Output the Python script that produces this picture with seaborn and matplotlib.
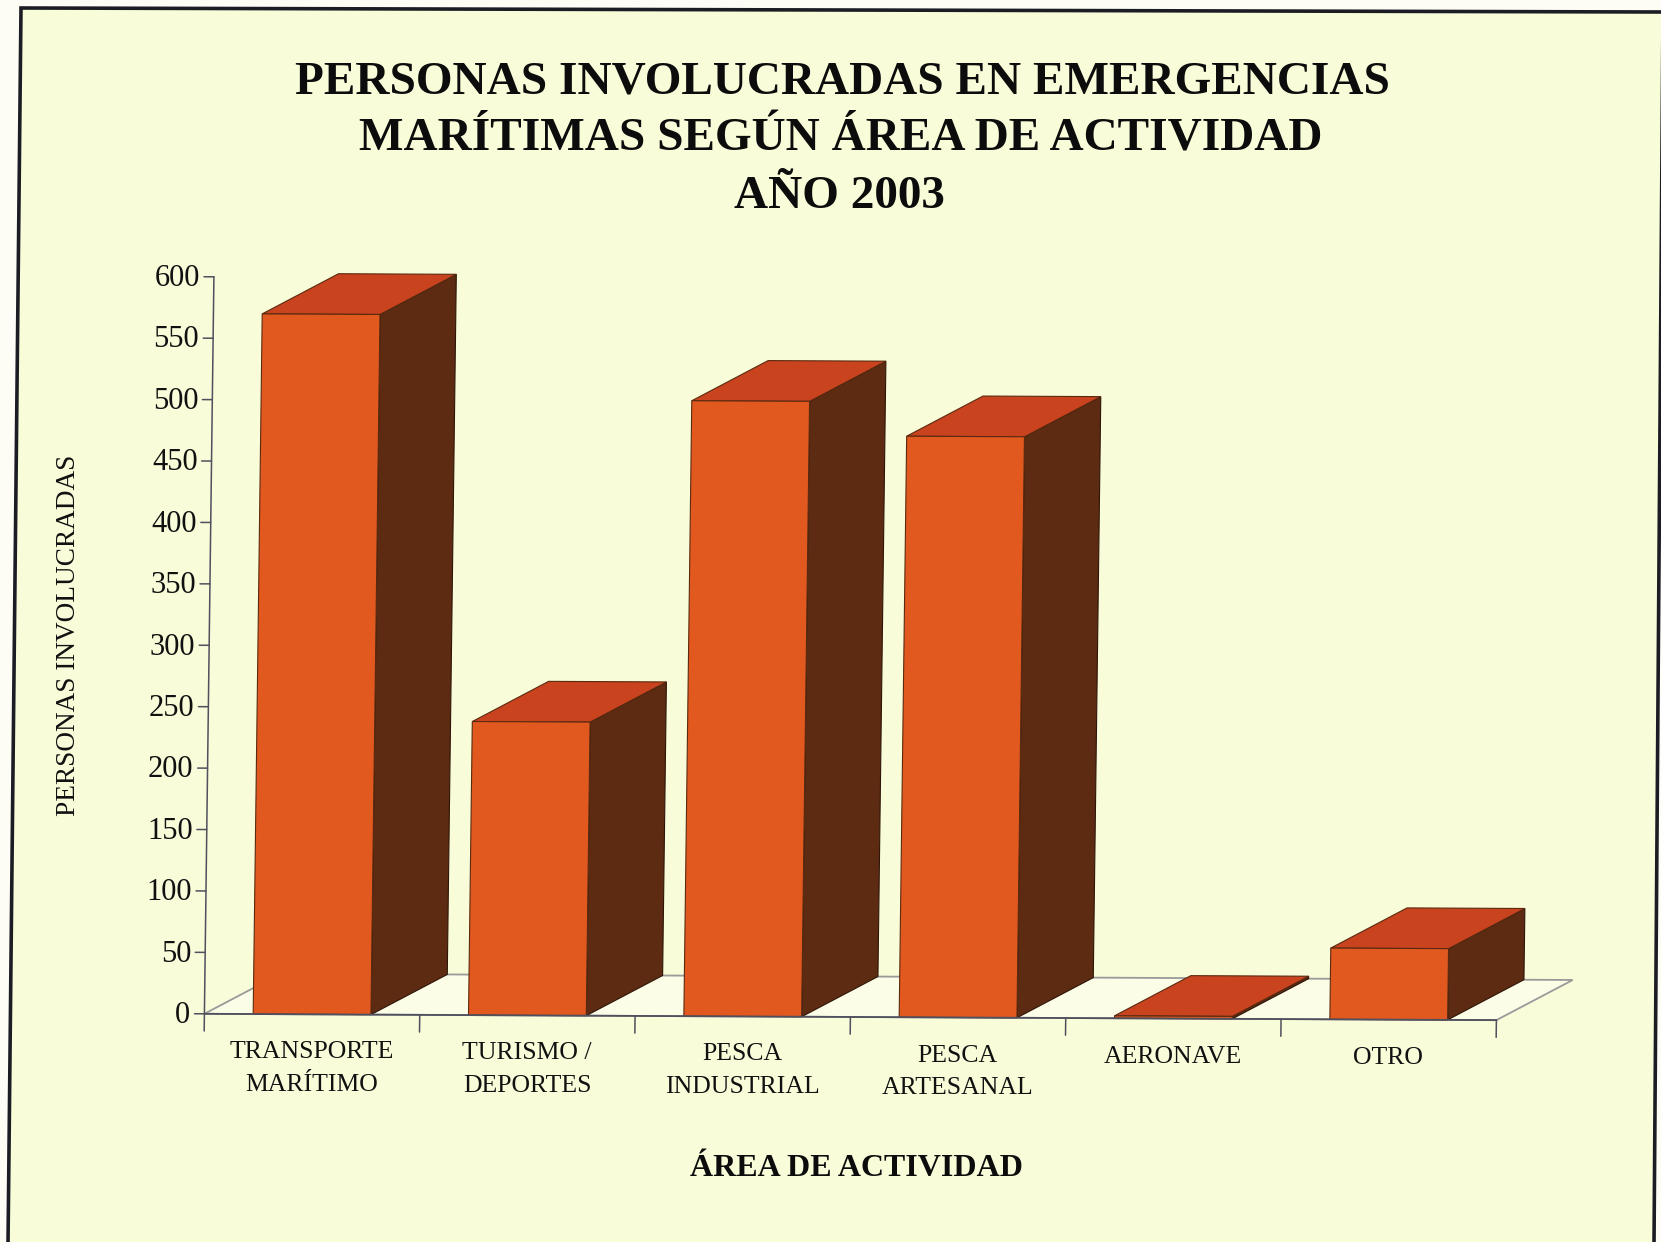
from matplotlib import pyplot as plt
from matplotlib.patches import Polygon
from matplotlib.transforms import Affine2D
import seaborn as sns
import pandas as pd

#datos
areas = ["TRANSPORTE\nMARÍTIMO", "TURISMO /\nDEPORTES", "PESCA\nINDUSTRIAL",
         "PESCA\nARTESANAL", "AERONAVE", "OTRO"]
personas = [570, 239, 501, 473, 2, 58]
y_ticks = [0, 50, 100, 150, 200, 250, 300, 350, 400, 450, 500, 550, 600]
titulo = ["PERSONAS INVOLUCRADAS EN EMERGENCIAS",
          "MARÍTIMAS SEGÚN ÁREA DE ACTIVIDAD",
          "AÑO 2003"]

sns.set_style("white")
plt.rcParams['font.family'] = ['Liberation Serif', 'DejaVu Serif']

W, H = 1661, 1242
fig = plt.figure(figsize=(W / 100, H / 100), dpi=100, facecolor="#fdfdf6")

# fondo con el marco del papel escaneado
fig.add_artist(Polygon([[21, H - 8], [W + 2, H - 12], [1654, -3], [8, -3]], closed=True,
                       transform=None, facecolor="#f8fcd8", edgecolor="#1c1c24", linewidth=2.6, zorder=-1))

# origen del eje en pixeles
x0, y0 = 204.4, 228.2
ax = fig.add_axes([x0 / W, y0 / H, 1292 / W, 737 / H])
ax.patch.set_alpha(0)

df = pd.DataFrame({"area": areas, "personas": personas})
ancho = 0.547
sns.barplot(data=df, x="area", y="personas", color="#e2591f", saturation=1, width=ancho,
            edgecolor="#5a2a10", linewidth=0.8, zorder=3, ax=ax)
ax.set_xlim(-0.5, 5.5)
ax.set_ylim(0, 600)
ax.axis("off")

# el escaneo deja el grafico algo inclinado
tilt = (Affine2D().translate(-x0, -y0)
        + Affine2D.from_values(1, -0.0049, 0.0129, 1, 0, 0)
        + Affine2D().translate(x0, y0))
tr = ax.transData + tilt
for p in ax.patches:
    p.set_transform(tr)
    p.set_clip_on(False)

# profundidad del efecto 3D
dx, dy = 0.352, 33

# piso
ax.add_patch(Polygon([[-0.5, 0], [-0.5 + dx, dy], [5.5 + dx, dy], [5.5, 0]], closed=True, transform=tr,
                     facecolor="#fbfde6", edgecolor="#9a9a9a", linewidth=1.3, zorder=1, clip_on=False))

# caras lateral y superior de cada barra
for i, v in enumerate(personas):
    l, r = i - ancho / 2, i + ancho / 2
    ax.add_patch(Polygon([[r, 0], [r + dx, dy], [r + dx, v + dy], [r, v]], closed=True, transform=tr,
                         facecolor="#5c2b11", edgecolor="#2e1508", linewidth=0.8, zorder=2, clip_on=False))
    ax.add_patch(Polygon([[l, v], [l + dx, v + dy], [r + dx, v + dy], [r, v]], closed=True, transform=tr,
                         facecolor="#c9431f", edgecolor="#5a2a10", linewidth=0.8, zorder=2, clip_on=False))

# ejes
color_eje = "#50505e"
ax.plot([-0.5, -0.5], [0, 600], color=color_eje, lw=1.1, transform=tr, clip_on=False, zorder=4)
ax.plot([-0.5, 5.5], [0, 0], color=color_eje, lw=1.3, transform=tr, clip_on=False, zorder=4)
for t in y_ticks:
    ax.plot([-0.546, -0.5], [t, t], color=color_eje, lw=1.1, transform=tr, clip_on=False, zorder=4)
    ax.text(-0.565, t - 1.5, str(t), ha="right", va="center", fontsize=22, color="#111111",
            transform=tr, clip_on=False)
for i in range(len(areas) + 1):
    ax.plot([i - 0.5, i - 0.5], [0, -14], color=color_eje, lw=1.1, transform=tr, clip_on=False, zorder=4)
for i, a in enumerate(areas):
    ax.text(i, -22, a, ha="center", va="top", fontsize=18.5, color="#111111", linespacing=1.6,
            transform=tr, clip_on=False)

# textos
for linea, cx, cy in zip(titulo, [795, 794, 792], [78, 132, 186]):
    fig.text(cx * 1.0593 / W, 1 - cy * 1.0593 / H, linea, ha="center", va="center",
             fontsize=34, fontweight="bold", color="#0c0c0c")
fig.text(809 * 1.0593 / W, 1 - 1103 * 1.0593 / H, "ÁREA DE ACTIVIDAD", ha="center", va="center",
         fontsize=23, fontweight="bold", color="#0c0c0c")
fig.text(65 * 1.0593 / W, 1 - 600 * 1.0593 / H, "PERSONAS INVOLUCRADAS", ha="center", va="center",
         rotation=90, fontsize=19.6, color="#111111")

plt.savefig("out.png", dpi=100, facecolor=fig.get_facecolor())
